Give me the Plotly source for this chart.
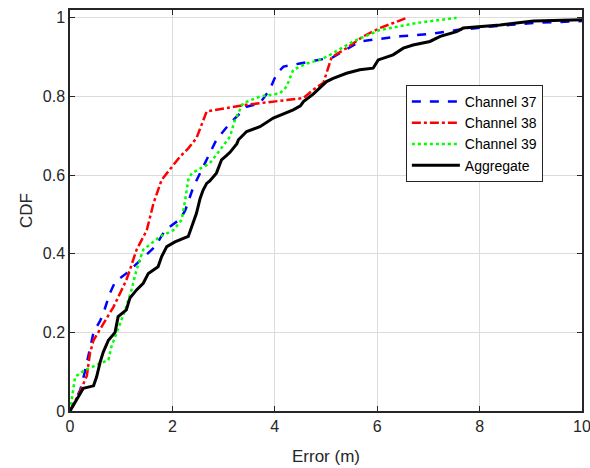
import plotly.graph_objects as go

# Aggregate (black)
agg_x = [0, 0.16, 0.26, 0.46, 0.52, 0.59, 0.65, 0.75, 0.88, 0.94, 1.1, 1.17, 1.3, 1.43, 1.53, 1.72, 1.79, 1.89, 2.05, 2.31, 2.41, 2.47, 2.54, 2.6, 2.67, 2.73, 2.86, 2.96, 3.06, 3.125, 3.26, 3.29, 3.45, 3.71, 3.97, 4.36, 4.5, 4.56, 4.75, 4.95, 5.01, 5.14, 5.4, 5.66, 5.92, 6.02, 6.31, 6.51, 6.7, 7.03, 7.23, 7.55, 7.68, 8.4, 9.05, 10]
agg_y = [0, 0.036, 0.058, 0.064, 0.087, 0.125, 0.15, 0.18, 0.2, 0.24, 0.257, 0.287, 0.308, 0.325, 0.35, 0.367, 0.393, 0.418, 0.43, 0.444, 0.48, 0.503, 0.54, 0.562, 0.579, 0.585, 0.605, 0.639, 0.65, 0.658, 0.68, 0.69, 0.711, 0.723, 0.745, 0.766, 0.776, 0.787, 0.806, 0.829, 0.838, 0.846, 0.859, 0.868, 0.872, 0.893, 0.906, 0.923, 0.931, 0.94, 0.953, 0.965, 0.974, 0.982, 0.992, 0.995]

# Channel 37 (blue)
c37_x = [0, 0.2, 0.29, 0.42, 0.46, 0.59, 0.65, 0.78, 0.88, 1.1, 1.43, 1.66, 1.86, 2.15, 2.25, 2.41, 2.57, 2.67, 2.73, 2.86, 3.125, 3.45, 3.71, 3.9, 4.04, 4.17, 4.49, 4.82, 5.14, 5.66, 6.05, 6.45, 7.1, 7.55, 8.4, 9.05, 10]
c37_y = [0, 0.053, 0.1, 0.176, 0.2, 0.23, 0.248, 0.3, 0.328, 0.35, 0.389, 0.418, 0.46, 0.488, 0.51, 0.57, 0.613, 0.639, 0.656, 0.69, 0.732, 0.774, 0.783, 0.817, 0.859, 0.876, 0.884, 0.893, 0.9, 0.94, 0.946, 0.953, 0.96, 0.969, 0.98, 0.987, 0.992]

# Channel 38 (red)
c38_x = [0, 0.2, 0.33, 0.39, 0.46, 0.65, 0.85, 0.98, 1.1, 1.17, 1.3, 1.5, 1.63, 1.79, 1.95, 2.15, 2.31, 2.47, 2.67, 3.45, 4.56, 4.75, 4.95, 5.11, 5.4, 5.73, 6.05, 6.38, 6.58]
c38_y = [0, 0.05, 0.09, 0.147, 0.18, 0.223, 0.265, 0.3, 0.333, 0.359, 0.41, 0.46, 0.528, 0.588, 0.613, 0.647, 0.668, 0.694, 0.762, 0.779, 0.796, 0.817, 0.835, 0.9, 0.923, 0.953, 0.974, 0.99, 1.0]

# Channel 39 (green)
c39_x = [0, 0.05, 0.1, 0.29, 0.52, 0.75, 0.81, 0.91, 1.0, 1.1, 1.2, 1.3, 1.43, 1.76, 2.02, 2.18, 2.25, 2.31, 2.38, 2.6, 2.73, 2.93, 3.125, 3.22, 3.38, 3.71, 4.1, 4.23, 4.36, 4.62, 4.88, 5.08, 5.53, 6.05, 6.77, 7.55]
c39_y = [0, 0.05, 0.087, 0.104, 0.117, 0.13, 0.164, 0.198, 0.23, 0.265, 0.308, 0.359, 0.41, 0.444, 0.46, 0.486, 0.537, 0.588, 0.605, 0.62, 0.63, 0.664, 0.698, 0.74, 0.783, 0.8, 0.808, 0.825, 0.868, 0.884, 0.893, 0.906, 0.94, 0.969, 0.987, 1.0]

x_ticks = [0, 2, 4, 6, 8, 10]
y_ticks = [0, 0.2, 0.4, 0.6, 0.8, 1]
y_tick_labels = ["0", "0.2", "0.4", "0.6", "0.8", "1"]

FONT = "Liberation Sans, Arial, Helvetica, sans-serif"

fig = go.Figure()
fig.add_trace(go.Scatter(x=c37_x, y=c37_y, mode="lines", name="Channel 37",
                         line=dict(color="#0000ff", width=2.5, dash="dash")))
fig.add_trace(go.Scatter(x=c38_x, y=c38_y, mode="lines", name="Channel 38",
                         line=dict(color="#ff0000", width=2.5, dash="dashdot")))
fig.add_trace(go.Scatter(x=c39_x, y=c39_y, mode="lines", name="Channel 39",
                         line=dict(color="#00ff00", width=2.5, dash="dot")))
fig.add_trace(go.Scatter(x=agg_x, y=agg_y, mode="lines", name="Aggregate",
                         line=dict(color="#000000", width=3)))

axis_common = dict(
    showline=True, linecolor="#262626", linewidth=1.5, mirror="ticks",
    ticks="inside", ticklen=5, tickcolor="#262626", tickwidth=1,
    showgrid=True, gridcolor="#dcdcdc", gridwidth=1, zeroline=False,
    tickfont=dict(family=FONT, size=16, color="#262626"),
    automargin=False, ticklabeloverflow="allow",
)

fig.update_layout(
    width=590, height=468,
    margin=dict(l=70, r=8, t=10, b=57),
    paper_bgcolor="white", plot_bgcolor="white",
    font=dict(family=FONT, size=16, color="#262626"),
    showlegend=True,
    legend=dict(x=0.656, y=0.813, xanchor="left", yanchor="top",
                bgcolor="white", bordercolor="#262626", borderwidth=1,
                font=dict(family=FONT, size=14, color="#000000"),
                tracegroupgap=0, itemwidth=48),
)
fig.update_xaxes(range=[0, 10], tickvals=x_ticks,
                 title=dict(text="Error (m)", font=dict(family=FONT, size=17, color="#262626"), standoff=16),
                 **axis_common)
fig.update_yaxes(range=[0, 1.02], tickvals=y_ticks, ticktext=y_tick_labels,
                 title=dict(text="CDF", font=dict(family=FONT, size=17, color="#262626"), standoff=6),
                 **axis_common)

fig.write_html(
    "out.html",
    config={"displayModeBar": False},
    post_script="document.body.style.margin='0';document.body.style.overflow='hidden';",
)
